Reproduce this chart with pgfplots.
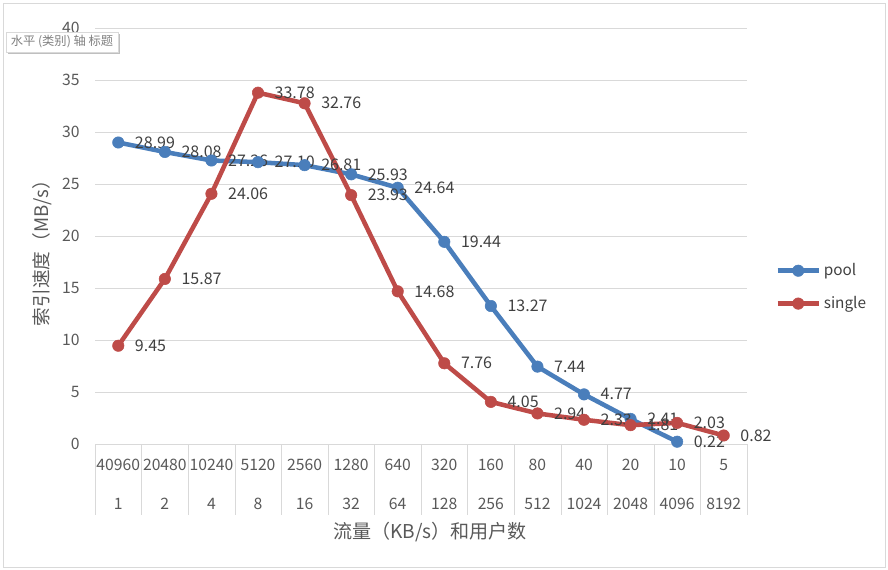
\documentclass[border=0pt]{standalone}
\usepackage{pgfplots}
\pgfplotsset{compat=1.18}
\usepackage{fontspec}
\setmainfont{Noto Sans CJK SC}
\definecolor{poolblue}{RGB}{74,126,187}
\definecolor{singlered}{RGB}{190,75,72}
\definecolor{txt}{RGB}{89,89,89}
\definecolor{lbl}{RGB}{64,64,64}
\definecolor{gridc}{RGB}{217,217,217}

\begin{document}
\begin{tikzpicture}
\useasboundingbox (0,0) rectangle (666pt,427.5pt);
\draw[gridc] (2.25pt,2.25pt) rectangle (663.75pt,425.25pt);
\begin{axis}[
  at={(71.25pt,94.5pt)}, anchor=south west,
  scale only axis, width=489pt, height=312pt,
  xmin=-0.5, xmax=13.5, ymin=0, ymax=40,
  ytick={0,5,...,40},
  xtick={0,...,13},
  xticklabels={40960\\1,20480\\2,10240\\4,5120\\8,2560\\16,1280\\32,640\\64,320\\128,160\\256,80\\512,40\\1024,20\\2048,10\\4096,5\\8192},
  minor xtick={-0.5,0.5,...,13.5},
  major tick length=0pt, minor tick length=53pt, tick align=outside,
  minor x tick style={gridc},
  axis x line*=bottom, axis y line*=left,
  x axis line style={gridc}, y axis line style={draw=none},
  ymajorgrids, grid style={gridc},
  /pgf/number format/assume math mode=true,
  xticklabel style={align=center, font=\fontsize{11.8}{29}\selectfont, text=txt, yshift=-8pt},
  yticklabel style={font=\fontsize{11.8}{13}\selectfont, text=txt, xshift=-8pt},
  ylabel={索引速度（MB/s）},
  ylabel style={at={(axis description cs:-0.081,0.47)}, anchor=center, font=\fontsize{14}{16}\selectfont, text=txt},
  xlabel={流量（KB/s）和用户数},
  xlabel style={at={(axis description cs:0.514,-0.2115)}, anchor=center, font=\fontsize{14.3}{16}\selectfont, text=txt},
  legend style={at={(axis description cs:1.043,0.377)}, anchor=west, draw=none, fill=none,
    font=\fontsize{11.5}{13}\selectfont, text=lbl, row sep=10pt, inner sep=0pt},
  legend cell align=left,
  legend image code/.code={\draw[#1, mark repeat=2, mark phase=2] plot coordinates {(0pt,0pt) (15.5pt,0pt) (31pt,0pt)};},
  nodes near coords={\pgfmathprintnumber[fixed,fixed zerofill,precision=2]{\pgfplotspointmeta}},
  every node near coord/.append style={anchor=west, xshift=9pt, font=\fontsize{12}{13}\selectfont, text=lbl},
]
\addplot[poolblue, line width=3.4pt, line join=round, mark=*, mark size=4.3pt, mark options={solid, line width=0.4pt}] coordinates {
(0,28.99) (1,28.08) (2,27.26) (3,27.10) (4,26.81) (5,25.93) (6,24.64)
(7,19.44) (8,13.27) (9,7.44) (10,4.77) (11,2.41) (12,0.22)
};
\addlegendentry{pool}
\addplot[singlered, line width=3.4pt, line join=round, mark=*, mark size=4.3pt, mark options={solid, line width=0.4pt}] coordinates {
(0,9.45) (1,15.87) (2,24.06) (3,33.78) (4,32.76) (5,23.93) (6,14.68)
(7,7.76) (8,4.05) (9,2.94) (10,2.33) (11,1.81) (12,2.03) (13,0.82)
};
\addlegendentry{single}
\end{axis}
\fill[black!25] (6pt,387pt) rectangle (90pt,402pt);
\node[draw=gridc, fill=white, minimum width=84pt, minimum height=15pt, inner sep=0pt,
  text=black!50, font=\fontsize{9.2}{10}\selectfont] at (46.5pt,396pt) {水平 (类别) 轴 标题};
\end{tikzpicture}
\end{document}
